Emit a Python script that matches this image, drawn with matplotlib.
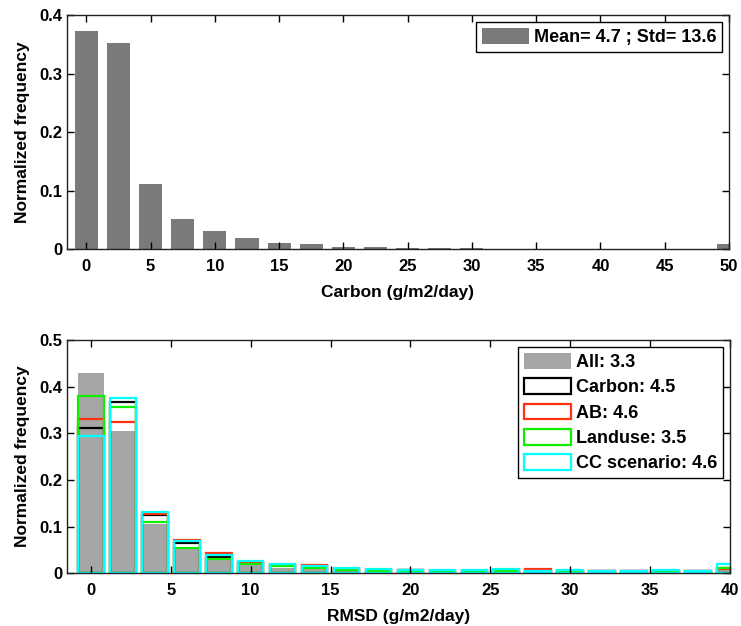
import matplotlib
matplotlib.use("Agg")
import matplotlib.pyplot as plt
from matplotlib.patches import Patch

plt.rcParams['font.family'] = ['Liberation Sans', 'DejaVu Sans']
plt.rcParams['font.size'] = 12
plt.rcParams['font.weight'] = 'bold'
plt.rcParams['axes.labelweight'] = 'bold'

# Carbon histogram (bin centres in g/m2/day)
carbon_bins = [0, 2.5, 5, 7.5, 10, 12.5, 15, 17.5, 20, 22.5, 25,
               27.5, 30, 32.5, 35, 37.5, 40, 42.5, 45, 47.5, 50]
carbon_freq = [0.373, 0.352, 0.111, 0.051, 0.030, 0.018, 0.0103, 0.008, 0.004, 0.0037, 0.0025,
               0.002, 0.0025, 0.0005, 0.0004, 0.0003, 0.0003, 0.0002, 0.0002, 0.0002, 0.008]
carbon_label = "Mean= 4.7 ; Std= 13.6"

# RMSD histograms per experiment
rmsd_bins = [0, 2, 4, 6, 8, 10, 12, 14, 16, 18, 20,
             22, 24, 26, 28, 30, 32, 34, 36, 38, 40]
rmsd_all = [0.429, 0.306, 0.106, 0.051, 0.028, 0.017, 0.012, 0.010, 0.007, 0.005, 0.004,
            0.004, 0.004, 0.004, 0.003, 0.003, 0.003, 0.003, 0.003, 0.003, 0.010]
rmsd_carbon = [0.312, 0.368, 0.125, 0.064, 0.034, 0.022, 0.017, 0.015, 0.009, 0.007, 0.006,
               0.005, 0.005, 0.005, 0.005, 0.004, 0.004, 0.004, 0.004, 0.004, 0.012]
rmsd_ab = [0.330, 0.325, 0.127, 0.071, 0.044, 0.023, 0.018, 0.0186, 0.010, 0.007, 0.006,
           0.005, 0.005, 0.006, 0.0086, 0.005, 0.005, 0.004, 0.004, 0.004, 0.010]
rmsd_landuse = [0.381, 0.356, 0.110, 0.054, 0.030, 0.020, 0.0157, 0.0107, 0.0071, 0.005, 0.004,
                0.004, 0.004, 0.004, 0.003, 0.003, 0.003, 0.003, 0.003, 0.003, 0.012]
rmsd_cc = [0.294, 0.375, 0.131, 0.069, 0.039, 0.027, 0.020, 0.0164, 0.0114, 0.0086, 0.0071,
           0.006, 0.006, 0.0086, 0.004, 0.0064, 0.0057, 0.0057, 0.006, 0.0057, 0.019]

series = [
    ("Carbon: 4.5", rmsd_carbon, "black"),
    ("AB: 4.6", rmsd_ab, "#ff3311"),
    ("Landuse: 3.5", rmsd_landuse, "#11ee00"),
    ("CC scenario: 4.6", rmsd_cc, "#00ffff"),
]

legend_kw = dict(loc='upper right', fancybox=False, edgecolor='black', framealpha=1,
                 fontsize=13, handlelength=2.6, handleheight=0.98, handletextpad=0.28,
                 labelspacing=0.4, borderpad=0.33, borderaxespad=0.38)


def style_axis(ax):
    ax.tick_params(direction='in', length=5, width=1, top=True, right=True,
                   labelsize=12)
    ax.tick_params(axis='x', pad=7)
    ax.tick_params(axis='y', pad=3)
    ax.xaxis.label.set_size(12.5)
    ax.yaxis.label.set_size(12.5)
    for sp in ax.spines.values():
        sp.set_linewidth(1)
        sp.set_color('#222222')


fig = plt.figure(figsize=(7.41, 6.26), dpi=100)

# Top panel: carbon
ax1 = fig.add_axes([0.0904, 0.6022, 0.8934, 0.3738])
ax1.bar(carbon_bins, carbon_freq, width=1.8, color='#7a7a7a', edgecolor='none')
ax1.set_xlim(-1.5, 50)
ax1.set_ylim(0, 0.4)
ax1.set_xticks([0, 5, 10, 15, 20, 25, 30, 35, 40, 45, 50])
ax1.set_yticks([0, 0.1, 0.2, 0.3, 0.4])
ax1.set_yticklabels(['0', '0.1', '0.2', '0.3', '0.4'])
ax1.set_xlabel("Carbon (g/m2/day)", labelpad=8)
ax1.set_ylabel("Normalized frequency", labelpad=7)
style_axis(ax1)
ax1.legend(handles=[Patch(facecolor='#7a7a7a', edgecolor='none', label=carbon_label)],
           **legend_kw)

# Bottom panel: RMSD
ax2 = fig.add_axes([0.0904, 0.0842, 0.8946, 0.3727])
ax2.bar(rmsd_bins, rmsd_all, width=1.6, color='#a6a6a6', edgecolor='none')
handles = [Patch(facecolor='#a6a6a6', edgecolor='none', label="All: 3.3")]
for label, vals, col in series:
    ax2.bar(rmsd_bins, vals, width=1.6, facecolor='none', edgecolor=col, linewidth=1.6)
    handles.append(Patch(facecolor='white', edgecolor=col, linewidth=1.6, label=label))
ax2.set_xlim(-1.5, 40)
ax2.set_ylim(0, 0.5)
ax2.set_xticks([0, 5, 10, 15, 20, 25, 30, 35, 40])
ax2.set_yticks([0, 0.1, 0.2, 0.3, 0.4, 0.5])
ax2.set_yticklabels(['0', '0.1', '0.2', '0.3', '0.4', '0.5'])
ax2.set_xlabel("RMSD (g/m2/day)", labelpad=8)
ax2.set_ylabel("Normalized frequency", labelpad=7)
style_axis(ax2)
ax2.legend(handles=handles, **legend_kw)

fig.savefig("out.png", dpi=100)
